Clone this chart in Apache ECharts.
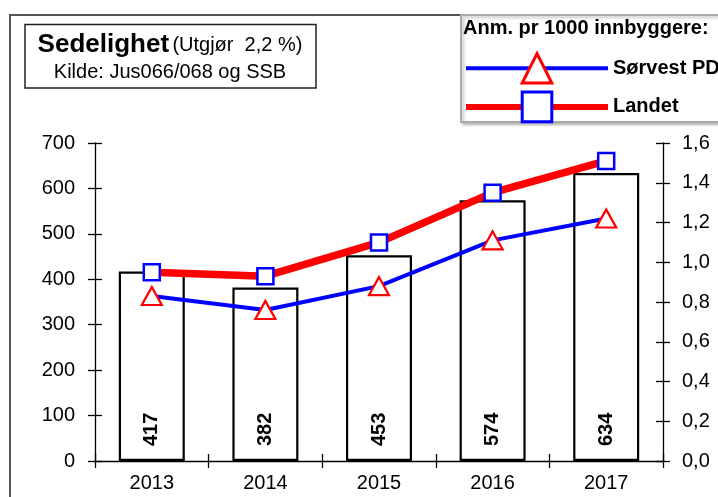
<!DOCTYPE html>
<html>
<head>
<meta charset="utf-8">
<script src="https://cdn.jsdelivr.net/npm/echarts@6/dist/echarts.min.js"></script>
<style>
  html, body { margin: 0; padding: 0; background: #fff; }
  #chart { width: 718px; height: 497px; }
</style>
</head>
<body>
<div id="chart"></div>
<script>
const years = ['2013', '2014', '2015', '2016', '2017'];
const anmeldelser = [417, 382, 453, 574, 634];
const sorvestPD = [0.83, 0.76, 0.88, 1.11, 1.22];
const landet = [0.95, 0.93, 1.10, 1.35, 1.51];

const FONT = '"Liberation Sans", Arial, sans-serif';
const chart = echarts.init(document.getElementById('chart'));

const tickOut = { show: true, inside: false, length: 7, lineStyle: { color: '#000', width: 1.3 } };
const tickIn = { show: true, inside: true, length: 7, lineStyle: { color: '#000', width: 1.3 } };
const axisLabelStyle = { color: '#000', fontSize: 20, fontFamily: FONT };
const commaFmt = v => v.toFixed(1).replace('.', ',');

const option = {
  animation: false,
  grid: { left: 95, right: 55, top: 143, bottom: 36 },
  legend: {
    orient: 'vertical',
    left: 463,
    top: 52,
    padding: 0,
    itemWidth: 142,
    itemHeight: 37,
    itemGap: 6,
    data: [
      { name: 'Sørvest PD', lineStyle: { width: 4 }, itemStyle: { borderWidth: 3 } },
      { name: 'Landet', lineStyle: { width: 6 }, itemStyle: { borderWidth: 3 } }
    ],
    textStyle: { color: '#000', fontSize: 20, fontWeight: 'bold', fontFamily: FONT }
  },
  graphic: [
    { type: 'polyline', silent: true, z: 0,
      shape: { points: [[10, 520], [10, 15], [470, 15]] },
      style: { stroke: '#555', lineWidth: 2, fill: null } },
    { type: 'rect', silent: true, z: 1,
      shape: { x: 25, y: 24.5, width: 291, height: 63.5 },
      style: { fill: '#fff', stroke: '#222', lineWidth: 1.5 } },
    { type: 'text', silent: true, z: 2,
      style: {
        x: 170, y: 45, textAlign: 'center', textVerticalAlign: 'middle',
        text: '{a|Sedelighet} {b|(Utgjør  2,2 %)}',
        rich: {
          a: { font: 'bold 26px ' + FONT, fill: '#000' },
          b: { font: '20px ' + FONT, fill: '#000' }
        }
      } },
    { type: 'text', silent: true, z: 2,
      style: { x: 170, y: 72, textAlign: 'center', textVerticalAlign: 'middle',
        text: 'Kilde: Jus066/068 og SSB', font: '20px ' + FONT, fill: '#000' } },
    { type: 'rect', silent: true, z: 1,
      shape: { x: 461, y: 15, width: 300, height: 107 },
      style: { fill: '#fff', stroke: '#aaa', lineWidth: 2,
        shadowColor: 'rgba(0,0,0,0.25)', shadowBlur: 3, shadowOffsetX: 2, shadowOffsetY: 2 } },
    { type: 'text', silent: true, z: 2,
      style: { x: 463, y: 28, textVerticalAlign: 'middle',
        text: 'Anm. pr 1000 innbyggere:', font: 'bold 20px ' + FONT, fill: '#000' } }
  ],
  xAxis: [
    {
      type: 'category', data: years, position: 'bottom',
      axisLine: { lineStyle: { color: '#000', width: 1.3 } },
      axisTick: tickOut,
      axisLabel: Object.assign({ margin: 12 }, axisLabelStyle)
    },
    {
      type: 'category', data: years, position: 'bottom',
      axisLine: { show: false }, axisTick: tickIn, axisLabel: { show: false }
    }
  ],
  yAxis: [
    {
      type: 'value', position: 'left', min: 0, max: 700, interval: 100,
      axisLine: { show: true, lineStyle: { color: '#000', width: 1.3 } },
      axisTick: tickOut, splitLine: { show: false },
      axisLabel: Object.assign({ margin: 20 }, axisLabelStyle)
    },
    {
      type: 'value', position: 'right', min: 0, max: 1.6, interval: 0.2,
      axisLine: { show: true, lineStyle: { color: '#000', width: 1.3 } },
      axisTick: tickOut, splitLine: { show: false },
      axisLabel: Object.assign({ margin: 19, formatter: commaFmt }, axisLabelStyle)
    },
    {
      type: 'value', position: 'left', min: 0, max: 700, interval: 100,
      axisLine: { show: false }, axisTick: tickIn, splitLine: { show: false },
      axisLabel: { show: false }
    },
    {
      type: 'value', position: 'right', min: 0, max: 1.6, interval: 0.2,
      axisLine: { show: false }, axisTick: tickIn, splitLine: { show: false },
      axisLabel: { show: false }
    }
  ],
  series: [
    {
      name: 'Anmeldelser', type: 'bar', data: anmeldelser, barWidth: 66,
      itemStyle: { color: '#fff', borderColor: '#000', borderWidth: 2.2 },
      label: {
        show: true, position: 'insideBottom', distance: 15, rotate: 90,
        align: 'left', verticalAlign: 'middle',
        color: '#000', fontSize: 20, fontWeight: 'bold', fontFamily: FONT
      }
    },
    {
      name: 'Sørvest PD', type: 'line', yAxisIndex: 1, data: sorvestPD,
      symbol: 'triangle', symbolSize: [20, 18],
      lineStyle: { color: '#0000ff', width: 4 },
      itemStyle: { color: '#fff', borderColor: '#ff0000', borderWidth: 2.2 },
      z: 3
    },
    {
      name: 'Landet', type: 'line', yAxisIndex: 1, data: landet,
      symbol: 'rect', symbolSize: 16,
      lineStyle: { color: '#ff0000', width: 7.5 },
      itemStyle: { color: '#fff', borderColor: '#0000ff', borderWidth: 2.5 },
      z: 4
    }
  ]
};

chart.setOption(option);
</script>
</body>
</html>
